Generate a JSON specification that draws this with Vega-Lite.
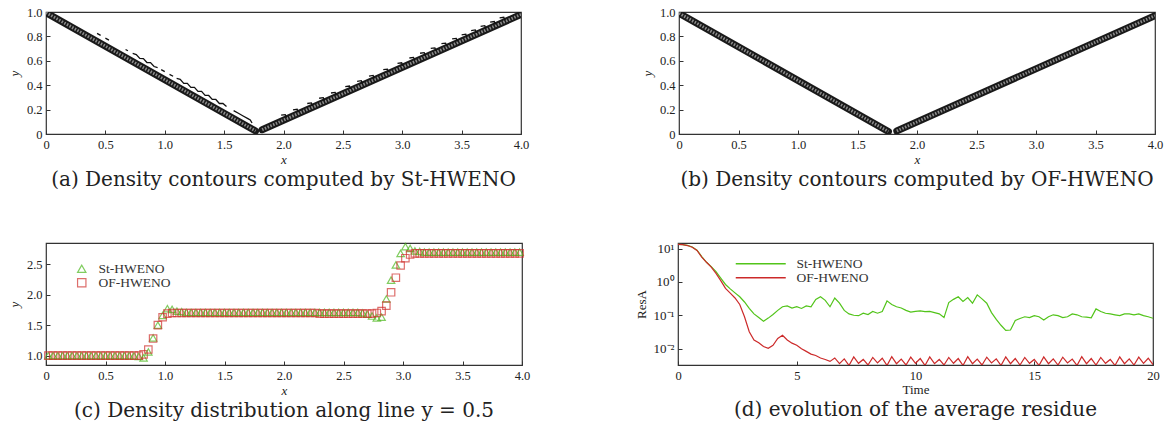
{
  "$schema": "https://vega.github.io/schema/vega-lite/v6.json",
  "background": "white",
  "padding": {"left": 7, "top": 5, "right": 0, "bottom": 0},
  "config": {
    "font": "Liberation Serif",
    "view": {"stroke": "#333", "strokeWidth": 1.2},
    "axis": {"grid": false, "domain": false, "tickSize": -4, "tickColor": "#333", "tickWidth": 1, "labelPadding": 8, "labelFontSize": 12.5, "labelColor": "#222", "labelFlush": false, "titleFontSize": 13, "titleFontWeight": "normal", "titleColor": "#222"},
    "axisX": {"titlePadding": 3},
    "axisY": {"titlePadding": 5},
    "title": {"font": "DejaVu Serif", "fontSize": 20, "fontWeight": "normal", "color": "#222", "orient": "bottom", "anchor": "middle", "frame": "group", "offset": 3},
    "legend": {"labelFont": "Liberation Serif", "labelFontSize": 13.5, "labelColor": "#333", "padding": 0}
  },
  "datasets": {
    "bandA": [
      {"g": "L", "x": 0, "y": 0.995}, {"g": "L", "x": 1.765, "y": 0.025},
      {"g": "R", "x": 1.82, "y": 0.035}, {"g": "R", "x": 4.0, "y": 0.98}
    ],
    "bandB": [
      {"g": "L", "x": 0, "y": 0.99}, {"g": "L", "x": 1.76, "y": 0.02},
      {"g": "R", "x": 1.83, "y": 0.025}, {"g": "R", "x": 4.0, "y": 0.97}
    ],
    "fragA": [
      {"g": "s1", "x": 0.43, "y": 0.825}, {"g": "s1", "x": 0.46, "y": 0.808},
      {"g": "s2", "x": 0.50, "y": 0.786}, {"g": "s2", "x": 0.53, "y": 0.77},
      {"g": "s3", "x": 0.67, "y": 0.693}, {"g": "s3", "x": 0.69, "y": 0.682},
      {"g": "s4", "x": 0.73, "y": 0.66}, {"g": "s4", "x": 0.76, "y": 0.651}, {"g": "s4", "x": 0.79, "y": 0.619}, {"g": "s4", "x": 0.82, "y": 0.618}, {"g": "s4", "x": 0.85, "y": 0.586}, {"g": "s4", "x": 0.88, "y": 0.585}, {"g": "s4", "x": 0.91, "y": 0.553}, {"g": "s4", "x": 0.94, "y": 0.544},
      {"g": "s5", "x": 0.97, "y": 0.528}, {"g": "s5", "x": 1.00, "y": 0.511},
      {"g": "s6", "x": 1.04, "y": 0.489}, {"g": "s6", "x": 1.07, "y": 0.473},
      {"g": "s7", "x": 1.10, "y": 0.456}, {"g": "s7", "x": 1.13, "y": 0.448}, {"g": "s7", "x": 1.16, "y": 0.415}, {"g": "s7", "x": 1.19, "y": 0.415}, {"g": "s7", "x": 1.22, "y": 0.382}, {"g": "s7", "x": 1.25, "y": 0.382}, {"g": "s7", "x": 1.28, "y": 0.349}, {"g": "s7", "x": 1.31, "y": 0.349}, {"g": "s7", "x": 1.34, "y": 0.316}, {"g": "s7", "x": 1.37, "y": 0.316}, {"g": "s7", "x": 1.40, "y": 0.283}, {"g": "s7", "x": 1.43, "y": 0.283}, {"g": "s7", "x": 1.46, "y": 0.25}, {"g": "s7", "x": 1.49, "y": 0.25}, {"g": "s7", "x": 1.52, "y": 0.225},
      {"g": "s8", "x": 1.58, "y": 0.192}, {"g": "s8", "x": 1.62, "y": 0.17}, {"g": "s8", "x": 1.66, "y": 0.148}, {"g": "s8", "x": 1.70, "y": 0.126}, {"g": "s8", "x": 1.72, "y": 0.115}, {"g": "s8", "x": 1.735, "y": 0.09},
      {"g": "r1", "x": 1.98, "y": 0.154}, {"g": "r1", "x": 2.015, "y": 0.159}, {"g": "r1", "x": 2.025, "y": 0.134},
      {"g": "r2", "x": 2.08, "y": 0.198}, {"g": "r2", "x": 2.115, "y": 0.203}, {"g": "r2", "x": 2.125, "y": 0.178},
      {"g": "r3", "x": 2.20, "y": 0.250}, {"g": "r3", "x": 2.235, "y": 0.255}, {"g": "r3", "x": 2.245, "y": 0.230},
      {"g": "r4", "x": 2.30, "y": 0.293}, {"g": "r4", "x": 2.335, "y": 0.298}, {"g": "r4", "x": 2.345, "y": 0.273},
      {"g": "r5", "x": 2.40, "y": 0.336}, {"g": "r5", "x": 2.435, "y": 0.341}, {"g": "r5", "x": 2.445, "y": 0.316},
      {"g": "r6", "x": 2.52, "y": 0.388}, {"g": "r6", "x": 2.555, "y": 0.393}, {"g": "r6", "x": 2.565, "y": 0.368},
      {"g": "r7", "x": 2.62, "y": 0.432}, {"g": "r7", "x": 2.655, "y": 0.437}, {"g": "r7", "x": 2.665, "y": 0.412},
      {"g": "r8", "x": 2.72, "y": 0.475}, {"g": "r8", "x": 2.755, "y": 0.480}, {"g": "r8", "x": 2.765, "y": 0.455},
      {"g": "r9", "x": 2.84, "y": 0.527}, {"g": "r9", "x": 2.875, "y": 0.532}, {"g": "r9", "x": 2.885, "y": 0.507},
      {"g": "r10", "x": 2.96, "y": 0.579}, {"g": "r10", "x": 2.995, "y": 0.584}, {"g": "r10", "x": 3.005, "y": 0.559},
      {"g": "r11", "x": 3.06, "y": 0.623}, {"g": "r11", "x": 3.095, "y": 0.628}, {"g": "r11", "x": 3.105, "y": 0.603},
      {"g": "r12", "x": 3.15, "y": 0.662}, {"g": "r12", "x": 3.185, "y": 0.667}, {"g": "r12", "x": 3.195, "y": 0.642},
      {"g": "r13", "x": 3.24, "y": 0.701}, {"g": "r13", "x": 3.275, "y": 0.706}, {"g": "r13", "x": 3.285, "y": 0.681},
      {"g": "r14", "x": 3.33, "y": 0.740}, {"g": "r14", "x": 3.365, "y": 0.745}, {"g": "r14", "x": 3.375, "y": 0.720},
      {"g": "r15", "x": 3.42, "y": 0.779}, {"g": "r15", "x": 3.455, "y": 0.784}, {"g": "r15", "x": 3.465, "y": 0.759},
      {"g": "r16", "x": 3.50, "y": 0.813}, {"g": "r16", "x": 3.535, "y": 0.818}, {"g": "r16", "x": 3.545, "y": 0.793},
      {"g": "r17", "x": 3.58, "y": 0.848}, {"g": "r17", "x": 3.615, "y": 0.853}, {"g": "r17", "x": 3.625, "y": 0.828},
      {"g": "r18", "x": 3.66, "y": 0.883}, {"g": "r18", "x": 3.695, "y": 0.888}, {"g": "r18", "x": 3.705, "y": 0.863},
      {"g": "r19", "x": 3.74, "y": 0.917}, {"g": "r19", "x": 3.775, "y": 0.922}, {"g": "r19", "x": 3.785, "y": 0.897},
      {"g": "r20", "x": 3.82, "y": 0.952}, {"g": "r20", "x": 3.855, "y": 0.957}, {"g": "r20", "x": 3.865, "y": 0.932}
    ],
    "profile": [
      {"x": 0.02, "St-HWENO": 1.0, "OF-HWENO": 1.0}, {"x": 0.06, "St-HWENO": 1.0, "OF-HWENO": 1.0}, {"x": 0.10, "St-HWENO": 1.0, "OF-HWENO": 1.0}, {"x": 0.14, "St-HWENO": 1.0, "OF-HWENO": 1.0},
      {"x": 0.18, "St-HWENO": 1.0, "OF-HWENO": 1.0}, {"x": 0.22, "St-HWENO": 1.0, "OF-HWENO": 1.0}, {"x": 0.26, "St-HWENO": 1.0, "OF-HWENO": 1.0}, {"x": 0.30, "St-HWENO": 1.0, "OF-HWENO": 1.0},
      {"x": 0.34, "St-HWENO": 1.0, "OF-HWENO": 1.0}, {"x": 0.38, "St-HWENO": 1.0, "OF-HWENO": 1.0}, {"x": 0.42, "St-HWENO": 1.0, "OF-HWENO": 1.0}, {"x": 0.46, "St-HWENO": 1.0, "OF-HWENO": 1.0},
      {"x": 0.50, "St-HWENO": 1.0, "OF-HWENO": 1.0}, {"x": 0.54, "St-HWENO": 1.0, "OF-HWENO": 1.0}, {"x": 0.58, "St-HWENO": 1.0, "OF-HWENO": 1.0}, {"x": 0.62, "St-HWENO": 1.0, "OF-HWENO": 1.0},
      {"x": 0.66, "St-HWENO": 1.0, "OF-HWENO": 1.0}, {"x": 0.70, "St-HWENO": 1.0, "OF-HWENO": 1.0}, {"x": 0.74, "St-HWENO": 0.995, "OF-HWENO": 1.0}, {"x": 0.78, "St-HWENO": 0.985, "OF-HWENO": 1.0},
      {"x": 0.82, "St-HWENO": 0.96, "OF-HWENO": 1.02}, {"x": 0.86, "St-HWENO": 1.06, "OF-HWENO": 1.10}, {"x": 0.90, "St-HWENO": 1.29, "OF-HWENO": 1.28}, {"x": 0.94, "St-HWENO": 1.50, "OF-HWENO": 1.50},
      {"x": 0.98, "St-HWENO": 1.66, "OF-HWENO": 1.63}, {"x": 1.02, "St-HWENO": 1.77, "OF-HWENO": 1.69}, {"x": 1.06, "St-HWENO": 1.76, "OF-HWENO": 1.70}, {"x": 1.10, "St-HWENO": 1.73, "OF-HWENO": 1.70},
      {"x": 1.14, "St-HWENO": 1.72, "OF-HWENO": 1.70}, {"x": 1.18, "St-HWENO": 1.71, "OF-HWENO": 1.70}, {"x": 1.22, "St-HWENO": 1.71, "OF-HWENO": 1.70}, {"x": 1.26, "St-HWENO": 1.71, "OF-HWENO": 1.70},
      {"x": 1.30, "St-HWENO": 1.71, "OF-HWENO": 1.70}, {"x": 1.34, "St-HWENO": 1.71, "OF-HWENO": 1.70}, {"x": 1.38, "St-HWENO": 1.71, "OF-HWENO": 1.70}, {"x": 1.42, "St-HWENO": 1.71, "OF-HWENO": 1.70},
      {"x": 1.46, "St-HWENO": 1.71, "OF-HWENO": 1.70}, {"x": 1.50, "St-HWENO": 1.71, "OF-HWENO": 1.70}, {"x": 1.54, "St-HWENO": 1.71, "OF-HWENO": 1.70}, {"x": 1.58, "St-HWENO": 1.71, "OF-HWENO": 1.70},
      {"x": 1.62, "St-HWENO": 1.71, "OF-HWENO": 1.70}, {"x": 1.66, "St-HWENO": 1.71, "OF-HWENO": 1.70}, {"x": 1.70, "St-HWENO": 1.71, "OF-HWENO": 1.70}, {"x": 1.74, "St-HWENO": 1.71, "OF-HWENO": 1.70},
      {"x": 1.78, "St-HWENO": 1.71, "OF-HWENO": 1.70}, {"x": 1.82, "St-HWENO": 1.71, "OF-HWENO": 1.70}, {"x": 1.86, "St-HWENO": 1.71, "OF-HWENO": 1.70}, {"x": 1.90, "St-HWENO": 1.71, "OF-HWENO": 1.70},
      {"x": 1.94, "St-HWENO": 1.71, "OF-HWENO": 1.70}, {"x": 1.98, "St-HWENO": 1.71, "OF-HWENO": 1.70}, {"x": 2.02, "St-HWENO": 1.71, "OF-HWENO": 1.70}, {"x": 2.06, "St-HWENO": 1.71, "OF-HWENO": 1.70},
      {"x": 2.10, "St-HWENO": 1.71, "OF-HWENO": 1.70}, {"x": 2.14, "St-HWENO": 1.71, "OF-HWENO": 1.70}, {"x": 2.18, "St-HWENO": 1.71, "OF-HWENO": 1.70}, {"x": 2.22, "St-HWENO": 1.71, "OF-HWENO": 1.70},
      {"x": 2.26, "St-HWENO": 1.71, "OF-HWENO": 1.70}, {"x": 2.30, "St-HWENO": 1.71, "OF-HWENO": 1.69}, {"x": 2.34, "St-HWENO": 1.71, "OF-HWENO": 1.69}, {"x": 2.38, "St-HWENO": 1.71, "OF-HWENO": 1.69},
      {"x": 2.42, "St-HWENO": 1.71, "OF-HWENO": 1.69}, {"x": 2.46, "St-HWENO": 1.71, "OF-HWENO": 1.69}, {"x": 2.50, "St-HWENO": 1.71, "OF-HWENO": 1.69}, {"x": 2.54, "St-HWENO": 1.71, "OF-HWENO": 1.69},
      {"x": 2.58, "St-HWENO": 1.71, "OF-HWENO": 1.69}, {"x": 2.62, "St-HWENO": 1.71, "OF-HWENO": 1.69}, {"x": 2.66, "St-HWENO": 1.70, "OF-HWENO": 1.69}, {"x": 2.70, "St-HWENO": 1.68, "OF-HWENO": 1.69},
      {"x": 2.74, "St-HWENO": 1.65, "OF-HWENO": 1.69}, {"x": 2.78, "St-HWENO": 1.62, "OF-HWENO": 1.70}, {"x": 2.82, "St-HWENO": 1.63, "OF-HWENO": 1.73}, {"x": 2.86, "St-HWENO": 1.93, "OF-HWENO": 1.82},
      {"x": 2.90, "St-HWENO": 2.24, "OF-HWENO": 2.04}, {"x": 2.94, "St-HWENO": 2.49, "OF-HWENO": 2.28}, {"x": 2.98, "St-HWENO": 2.68, "OF-HWENO": 2.48}, {"x": 3.02, "St-HWENO": 2.79, "OF-HWENO": 2.60},
      {"x": 3.06, "St-HWENO": 2.76, "OF-HWENO": 2.66}, {"x": 3.10, "St-HWENO": 2.72, "OF-HWENO": 2.68}, {"x": 3.14, "St-HWENO": 2.71, "OF-HWENO": 2.68}, {"x": 3.18, "St-HWENO": 2.70, "OF-HWENO": 2.68},
      {"x": 3.22, "St-HWENO": 2.70, "OF-HWENO": 2.68}, {"x": 3.26, "St-HWENO": 2.70, "OF-HWENO": 2.68}, {"x": 3.30, "St-HWENO": 2.70, "OF-HWENO": 2.68}, {"x": 3.34, "St-HWENO": 2.70, "OF-HWENO": 2.68},
      {"x": 3.38, "St-HWENO": 2.70, "OF-HWENO": 2.68}, {"x": 3.42, "St-HWENO": 2.70, "OF-HWENO": 2.68}, {"x": 3.46, "St-HWENO": 2.70, "OF-HWENO": 2.68}, {"x": 3.50, "St-HWENO": 2.70, "OF-HWENO": 2.68},
      {"x": 3.54, "St-HWENO": 2.70, "OF-HWENO": 2.68}, {"x": 3.58, "St-HWENO": 2.70, "OF-HWENO": 2.68}, {"x": 3.62, "St-HWENO": 2.70, "OF-HWENO": 2.68}, {"x": 3.66, "St-HWENO": 2.70, "OF-HWENO": 2.68},
      {"x": 3.70, "St-HWENO": 2.70, "OF-HWENO": 2.68}, {"x": 3.74, "St-HWENO": 2.70, "OF-HWENO": 2.68}, {"x": 3.78, "St-HWENO": 2.70, "OF-HWENO": 2.68}, {"x": 3.82, "St-HWENO": 2.70, "OF-HWENO": 2.68},
      {"x": 3.86, "St-HWENO": 2.70, "OF-HWENO": 2.68}, {"x": 3.90, "St-HWENO": 2.70, "OF-HWENO": 2.68}, {"x": 3.94, "St-HWENO": 2.70, "OF-HWENO": 2.68}, {"x": 3.98, "St-HWENO": 2.70, "OF-HWENO": 2.68}
    ],
    "resid": [
      {"t": 0.0, "St-HWENO": 13.5, "OF-HWENO": 13.5}, {"t": 0.2, "St-HWENO": 13.3, "OF-HWENO": 13.2}, {"t": 0.4, "St-HWENO": 12.6, "OF-HWENO": 12.4}, {"t": 0.6, "St-HWENO": 11.2, "OF-HWENO": 11.0},
      {"t": 0.8, "St-HWENO": 9.0, "OF-HWENO": 8.8}, {"t": 1.0, "St-HWENO": 5.8, "OF-HWENO": 5.6}, {"t": 1.2, "St-HWENO": 3.9, "OF-HWENO": 3.9}, {"t": 1.4, "St-HWENO": 2.9, "OF-HWENO": 2.8},
      {"t": 1.6, "St-HWENO": 2.05, "OF-HWENO": 1.8}, {"t": 1.8, "St-HWENO": 1.3, "OF-HWENO": 1.1}, {"t": 2.0, "St-HWENO": 0.84, "OF-HWENO": 0.64}, {"t": 2.2, "St-HWENO": 0.62, "OF-HWENO": 0.46},
      {"t": 2.4, "St-HWENO": 0.47, "OF-HWENO": 0.33}, {"t": 2.6, "St-HWENO": 0.36, "OF-HWENO": 0.21}, {"t": 2.8, "St-HWENO": 0.25, "OF-HWENO": 0.09}, {"t": 3.0, "St-HWENO": 0.16, "OF-HWENO": 0.032},
      {"t": 3.2, "St-HWENO": 0.11, "OF-HWENO": 0.018}, {"t": 3.4, "St-HWENO": 0.085, "OF-HWENO": 0.015}, {"t": 3.6, "St-HWENO": 0.066, "OF-HWENO": 0.0115}, {"t": 3.8, "St-HWENO": 0.082, "OF-HWENO": 0.0102},
      {"t": 4.0, "St-HWENO": 0.105, "OF-HWENO": 0.0125}, {"t": 4.2, "St-HWENO": 0.14, "OF-HWENO": 0.02}, {"t": 4.4, "St-HWENO": 0.18, "OF-HWENO": 0.025}, {"t": 4.6, "St-HWENO": 0.19, "OF-HWENO": 0.018},
      {"t": 4.8, "St-HWENO": 0.165, "OF-HWENO": 0.0145}, {"t": 5.0, "St-HWENO": 0.18, "OF-HWENO": 0.0125}, {"t": 5.2, "St-HWENO": 0.16, "OF-HWENO": 0.0098}, {"t": 5.4, "St-HWENO": 0.19, "OF-HWENO": 0.0082},
      {"t": 5.6, "St-HWENO": 0.18, "OF-HWENO": 0.0068}, {"t": 5.8, "St-HWENO": 0.3, "OF-HWENO": 0.0062}, {"t": 6.0, "St-HWENO": 0.36, "OF-HWENO": 0.0052}, {"t": 6.2, "St-HWENO": 0.28, "OF-HWENO": 0.0047},
      {"t": 6.4, "St-HWENO": 0.18, "OF-HWENO": 0.0041}, {"t": 6.6, "St-HWENO": 0.33, "OF-HWENO": 0.0052}, {"t": 6.8, "St-HWENO": 0.23, "OF-HWENO": 0.0035}, {"t": 7.0, "St-HWENO": 0.14, "OF-HWENO": 0.0049},
      {"t": 7.2, "St-HWENO": 0.11, "OF-HWENO": 0.0031}, {"t": 7.4, "St-HWENO": 0.1, "OF-HWENO": 0.0056}, {"t": 7.6, "St-HWENO": 0.097, "OF-HWENO": 0.0036}, {"t": 7.8, "St-HWENO": 0.115, "OF-HWENO": 0.0047},
      {"t": 8.0, "St-HWENO": 0.105, "OF-HWENO": 0.0032}, {"t": 8.2, "St-HWENO": 0.13, "OF-HWENO": 0.0054}, {"t": 8.4, "St-HWENO": 0.115, "OF-HWENO": 0.0037}, {"t": 8.6, "St-HWENO": 0.13, "OF-HWENO": 0.0051},
      {"t": 8.8, "St-HWENO": 0.27, "OF-HWENO": 0.0031}, {"t": 9.0, "St-HWENO": 0.21, "OF-HWENO": 0.0057}, {"t": 9.2, "St-HWENO": 0.18, "OF-HWENO": 0.0035}, {"t": 9.4, "St-HWENO": 0.165, "OF-HWENO": 0.0048},
      {"t": 9.6, "St-HWENO": 0.14, "OF-HWENO": 0.0032}, {"t": 9.8, "St-HWENO": 0.125, "OF-HWENO": 0.0055}, {"t": 10.0, "St-HWENO": 0.13, "OF-HWENO": 0.0036}, {"t": 10.2, "St-HWENO": 0.135, "OF-HWENO": 0.005},
      {"t": 10.4, "St-HWENO": 0.128, "OF-HWENO": 0.0031}, {"t": 10.6, "St-HWENO": 0.13, "OF-HWENO": 0.0056}, {"t": 10.8, "St-HWENO": 0.12, "OF-HWENO": 0.0035}, {"t": 11.0, "St-HWENO": 0.11, "OF-HWENO": 0.0047},
      {"t": 11.2, "St-HWENO": 0.085, "OF-HWENO": 0.0032}, {"t": 11.4, "St-HWENO": 0.24, "OF-HWENO": 0.0054}, {"t": 11.6, "St-HWENO": 0.3, "OF-HWENO": 0.0036}, {"t": 11.8, "St-HWENO": 0.36, "OF-HWENO": 0.005},
      {"t": 12.0, "St-HWENO": 0.26, "OF-HWENO": 0.0031}, {"t": 12.2, "St-HWENO": 0.34, "OF-HWENO": 0.0057}, {"t": 12.4, "St-HWENO": 0.23, "OF-HWENO": 0.0035}, {"t": 12.6, "St-HWENO": 0.41, "OF-HWENO": 0.0048},
      {"t": 12.8, "St-HWENO": 0.31, "OF-HWENO": 0.0032}, {"t": 13.0, "St-HWENO": 0.23, "OF-HWENO": 0.0055}, {"t": 13.2, "St-HWENO": 0.12, "OF-HWENO": 0.0037}, {"t": 13.4, "St-HWENO": 0.075, "OF-HWENO": 0.0049},
      {"t": 13.6, "St-HWENO": 0.05, "OF-HWENO": 0.0031}, {"t": 13.8, "St-HWENO": 0.035, "OF-HWENO": 0.0056}, {"t": 14.0, "St-HWENO": 0.036, "OF-HWENO": 0.0035}, {"t": 14.2, "St-HWENO": 0.07, "OF-HWENO": 0.005},
      {"t": 14.4, "St-HWENO": 0.08, "OF-HWENO": 0.0032}, {"t": 14.6, "St-HWENO": 0.09, "OF-HWENO": 0.0054}, {"t": 14.8, "St-HWENO": 0.085, "OF-HWENO": 0.0036}, {"t": 15.0, "St-HWENO": 0.097, "OF-HWENO": 0.0047},
      {"t": 15.2, "St-HWENO": 0.09, "OF-HWENO": 0.0031}, {"t": 15.4, "St-HWENO": 0.072, "OF-HWENO": 0.0056}, {"t": 15.6, "St-HWENO": 0.09, "OF-HWENO": 0.0035}, {"t": 15.8, "St-HWENO": 0.103, "OF-HWENO": 0.0049},
      {"t": 16.0, "St-HWENO": 0.097, "OF-HWENO": 0.0032}, {"t": 16.2, "St-HWENO": 0.085, "OF-HWENO": 0.0055}, {"t": 16.4, "St-HWENO": 0.09, "OF-HWENO": 0.0037}, {"t": 16.6, "St-HWENO": 0.11, "OF-HWENO": 0.0048},
      {"t": 16.8, "St-HWENO": 0.103, "OF-HWENO": 0.0031}, {"t": 17.0, "St-HWENO": 0.09, "OF-HWENO": 0.0057}, {"t": 17.2, "St-HWENO": 0.088, "OF-HWENO": 0.0035}, {"t": 17.4, "St-HWENO": 0.084, "OF-HWENO": 0.005},
      {"t": 17.6, "St-HWENO": 0.155, "OF-HWENO": 0.0032}, {"t": 17.8, "St-HWENO": 0.13, "OF-HWENO": 0.0054}, {"t": 18.0, "St-HWENO": 0.115, "OF-HWENO": 0.0036}, {"t": 18.2, "St-HWENO": 0.11, "OF-HWENO": 0.0047},
      {"t": 18.4, "St-HWENO": 0.103, "OF-HWENO": 0.0031}, {"t": 18.6, "St-HWENO": 0.097, "OF-HWENO": 0.0056}, {"t": 18.8, "St-HWENO": 0.11, "OF-HWENO": 0.0035}, {"t": 19.0, "St-HWENO": 0.11, "OF-HWENO": 0.0049},
      {"t": 19.2, "St-HWENO": 0.103, "OF-HWENO": 0.0032}, {"t": 19.4, "St-HWENO": 0.11, "OF-HWENO": 0.0055}, {"t": 19.6, "St-HWENO": 0.097, "OF-HWENO": 0.0036}, {"t": 19.8, "St-HWENO": 0.09, "OF-HWENO": 0.0051},
      {"t": 20.0, "St-HWENO": 0.081, "OF-HWENO": 0.0033}
    ]
  },
  "resolve": {"scale": {"color": "independent", "shape": "independent"}, "legend": {"color": "independent", "shape": "independent"}},
  "vconcat": [
    {
      "hconcat": [
        {
          "width": 475, "height": 122,
          "title": "(a) Density contours computed by St-HWENO",
          "encoding": {
            "x": {"field": "x", "type": "quantitative", "scale": {"domain": [0, 4], "nice": false}, "axis": {"title": "x", "titleFontStyle": "italic", "values": [0, 0.5, 1, 1.5, 2, 2.5, 3, 3.5, 4], "labelExpr": "datum.value == 0 ? '0' : format(datum.value, '.1f')"}},
            "y": {"field": "y", "type": "quantitative", "scale": {"domain": [0, 1], "nice": false}, "axis": {"title": "y", "titleFontStyle": "italic", "values": [0, 0.2, 0.4, 0.6, 0.8, 1], "labelExpr": "datum.value == 0 ? '0' : format(datum.value, '.1f')"}},
            "detail": {"field": "g"}
          },
          "layer": [
            {"data": {"name": "bandA"}, "mark": {"type": "line", "clip": true, "color": "#1a1a1a", "strokeWidth": 7, "strokeCap": "round"}, "encoding": {}},
            {"data": {"name": "bandA"}, "mark": {"type": "line", "clip": true, "color": "#8c8c8c", "strokeWidth": 3, "strokeDash": [1.5, 1.5]}, "encoding": {}},
            {"data": {"name": "fragA"}, "mark": {"type": "line", "clip": true, "color": "#111", "strokeWidth": 1.3}, "encoding": {}}
          ]
        },
        {
          "width": 476, "height": 122,
          "title": "(b) Density contours computed by OF-HWENO",
          "encoding": {
            "x": {"field": "x", "type": "quantitative", "scale": {"domain": [0, 4], "nice": false}, "axis": {"title": "x", "titleFontStyle": "italic", "values": [0, 0.5, 1, 1.5, 2, 2.5, 3, 3.5, 4], "labelExpr": "datum.value == 0 ? '0' : format(datum.value, '.1f')"}},
            "y": {"field": "y", "type": "quantitative", "scale": {"domain": [0, 1], "nice": false}, "axis": {"title": "y", "titleFontStyle": "italic", "values": [0, 0.2, 0.4, 0.6, 0.8, 1], "labelExpr": "datum.value == 0 ? '0' : format(datum.value, '.1f')"}},
            "detail": {"field": "g"}
          },
          "layer": [
            {"data": {"name": "bandB"}, "mark": {"type": "line", "clip": true, "color": "#1a1a1a", "strokeWidth": 7, "strokeCap": "round"}, "encoding": {}},
            {"data": {"name": "bandB"}, "mark": {"type": "line", "clip": true, "color": "#8c8c8c", "strokeWidth": 3, "strokeDash": [1.5, 1.5]}, "encoding": {}}
          ]
        }
      ],
      "spacing": 110
    },
    {
      "resolve": {"scale": {"color": "independent", "shape": "independent"}, "legend": {"color": "independent", "shape": "independent"}},
      "hconcat": [
        {
          "width": 476, "height": 122,
          "title": "(c) Density distribution along line y = 0.5",
          "data": {"name": "profile"},
          "transform": [{"fold": ["St-HWENO", "OF-HWENO"], "as": ["method", "rho"]}],
          "mark": {"type": "point", "filled": false, "strokeWidth": 1.2, "size": 55},
          "encoding": {
            "x": {"field": "x", "type": "quantitative", "scale": {"domain": [0, 4], "nice": false}, "axis": {"title": "x", "titleFontStyle": "italic", "values": [0, 0.5, 1, 1.5, 2, 2.5, 3, 3.5, 4], "labelExpr": "datum.value == 0 ? '0' : format(datum.value, '.1f')"}},
            "y": {"field": "rho", "type": "quantitative", "scale": {"domain": [0.845, 2.85], "nice": false, "zero": false}, "axis": {"title": "y", "titleFontStyle": "italic", "values": [1, 1.5, 2, 2.5], "format": ".1f"}},
            "shape": {"field": "method", "type": "nominal", "scale": {"domain": ["St-HWENO", "OF-HWENO"], "range": ["triangle-up", "square"]}, "legend": {"orient": "none", "legendX": 29, "legendY": 19, "title": null, "labelOffset": 10, "symbolSize": 70, "symbolStrokeWidth": 1.2, "rowPadding": -2}},
            "color": {"field": "method", "type": "nominal", "scale": {"domain": ["St-HWENO", "OF-HWENO"], "range": ["#4db81e", "#d0312d"]}, "legend": {"orient": "none", "legendX": 29, "legendY": 19, "title": null, "labelOffset": 10, "symbolSize": 70, "symbolStrokeWidth": 1.2, "rowPadding": -2}}
          }
        },
        {
          "width": 475, "height": 122,
          "title": "(d) evolution of the average residue",
          "data": {"name": "resid"},
          "transform": [{"fold": ["St-HWENO", "OF-HWENO"], "as": ["method", "r"]}],
          "mark": {"type": "line", "strokeWidth": 1.2, "clip": true},
          "encoding": {
            "x": {"field": "t", "type": "quantitative", "scale": {"domain": [0, 20], "nice": false}, "axis": {"title": "Time", "values": [0, 5, 10, 15, 20], "titlePadding": 2}},
            "y": {"field": "r", "type": "quantitative", "scale": {"type": "log", "domain": [0.0032, 14.8], "nice": false}, "axis": {"title": "ResA", "titlePadding": 5, "labelFontSize": 13, "values": [0.01, 0.1, 1, 10], "labelExpr": "datum.value >= 10 ? '10¹' : datum.value >= 1 ? '10⁰' : datum.value >= 0.1 ? '10⁻¹' : '10⁻²'"}},
            "color": {"field": "method", "type": "nominal", "scale": {"domain": ["St-HWENO", "OF-HWENO"], "range": ["#52c41a", "#cc2a2a"]}, "legend": {"orient": "none", "legendX": 76, "legendY": 14, "title": null, "symbolType": "M-5,0H5", "symbolSize": 100, "symbolStrokeWidth": 1.5, "labelOffset": 29, "rowPadding": -1}}
          }
        }
      ],
      "spacing": 103
    }
  ],
  "spacing": 49
}
